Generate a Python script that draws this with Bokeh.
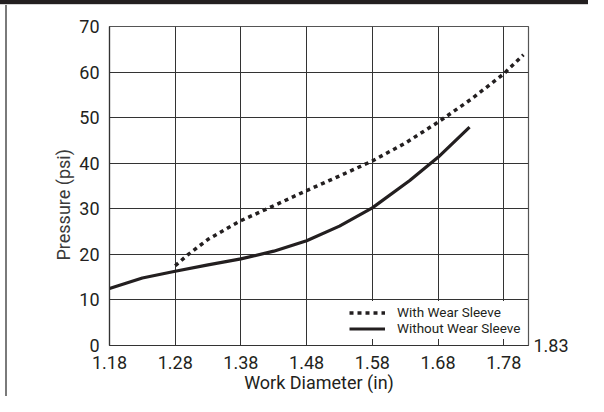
from bokeh.plotting import figure
from bokeh.models import Range1d, FixedTicker, PrintfTickFormatter, LinearAxis, Title
from bokeh.embed import file_html
from bokeh.resources import INLINE

# ---- data ----
with_x = [1.28, 1.30, 1.33, 1.36, 1.38, 1.42, 1.48, 1.53, 1.58, 1.63, 1.68, 1.73, 1.78, 1.81]
with_y = [17.5, 20.0, 23.3, 25.8, 27.4, 30.0, 34.0, 37.2, 40.5, 44.4, 49.0, 54.0, 59.6, 63.8]
without_x = [1.18, 1.23, 1.28, 1.33, 1.38, 1.43, 1.48, 1.53, 1.58, 1.637, 1.68, 1.728]
without_y = [12.5, 14.8, 16.3, 17.7, 19.0, 20.7, 23.0, 26.2, 30.2, 36.2, 41.3, 47.9]
x_ticks = [1.18, 1.28, 1.38, 1.48, 1.58, 1.68, 1.78]
y_ticks = [0, 10, 20, 30, 40, 50, 60, 70]
series_names = ["With Wear Sleeve", "Without Wear Sleeve"]
x_title = "Work Diameter (in)"
y_title = "Pressure (psi)"
end_label = "1.83"

FONT = "Roboto"
INK = "#231f20"

p = figure(width=588, height=396, output_backend="svg", toolbar_location=None,
           x_range=Range1d(1.18, 1.8177), y_range=Range1d(0, 70),
           min_border_left=109, min_border_right=60, min_border_top=26, min_border_bottom=51)
p.background_fill_color = "white"
p.border_fill_alpha = 0
# page frame: dark band along the top, thin grey rule down the left side
p.styles = {
    "background": "linear-gradient(to bottom, #231f20 0px, #231f20 4px, #d4d4d4 4px, #d4d4d4 5px, "
                  "rgba(255,255,255,0) 5px), "
                  "linear-gradient(to right, #ffffff 0px, #ffffff 5px, #7a7a7a 5px, #7a7a7a 7px, "
                  "#ffffff 7px)"
}
p.outline_line_color = "#555555"
p.outline_line_width = 1.2


def style_axis(ax):
    ax.major_tick_in = 0
    ax.major_tick_out = 0
    ax.minor_tick_in = 0
    ax.minor_tick_out = 0
    ax.axis_line_color = "#333333"
    ax.axis_line_width = 1.2
    ax.major_label_text_font = FONT
    ax.major_label_text_font_size = "18px"
    ax.major_label_text_color = INK
    ax.axis_label_text_font = FONT
    ax.axis_label_text_font_size = "18px"
    ax.axis_label_text_font_style = "normal"
    ax.axis_label_text_color = INK


style_axis(p.xaxis[0])
style_axis(p.yaxis[0])

p.xaxis.ticker = FixedTicker(ticks=x_ticks)
p.xaxis.formatter = PrintfTickFormatter(format="%.2f")
p.xaxis.major_label_standoff = 10
p.xaxis.axis_label = x_title
p.xaxis.axis_label_standoff = 0
p.yaxis.ticker = FixedTicker(ticks=y_ticks)
p.yaxis.major_label_standoff = 10

# y title: placed a little below the frame centre, as in the original
ytitle = Title(text=y_title, align="left", offset=85, text_font=FONT,
               text_font_size="18px", text_font_style="normal", text_color="#3a3a3a",
               standoff=6)
p.add_layout(ytitle, "left")

# end-of-axis annotation on the right
end_axis = LinearAxis(ticker=FixedTicker(ticks=[0]), major_label_overrides={0: end_label})
style_axis(end_axis)
end_axis.axis_line_alpha = 0
end_axis.major_label_standoff = 5
p.add_layout(end_axis, "right")

p.xgrid.ticker = FixedTicker(ticks=x_ticks)
p.ygrid.ticker = FixedTicker(ticks=y_ticks)
for g in (p.xgrid[0], p.ygrid[0]):
    g.grid_line_color = "#333333"
    g.grid_line_width = 1

p.line(with_x, with_y, line_color=INK, line_width=3.5, line_dash="4 4",
       legend_label=series_names[0])
p.line(without_x, without_y, line_color=INK, line_width=3.2,
       legend_label=series_names[1])

lg = p.legend[0]
lg.location = (237, 6)
lg.padding = 3
lg.margin = 0
lg.spacing = 0
lg.glyph_width = 36
lg.glyph_height = 15
lg.label_height = 15
lg.label_standoff = 12
lg.label_text_font = FONT
lg.label_text_font_size = "13.5px"
lg.label_text_color = INK
lg.border_line_alpha = 0
lg.background_fill_color = "white"
lg.background_fill_alpha = 1

open("out.html", "w").write(file_html(p, INLINE))
